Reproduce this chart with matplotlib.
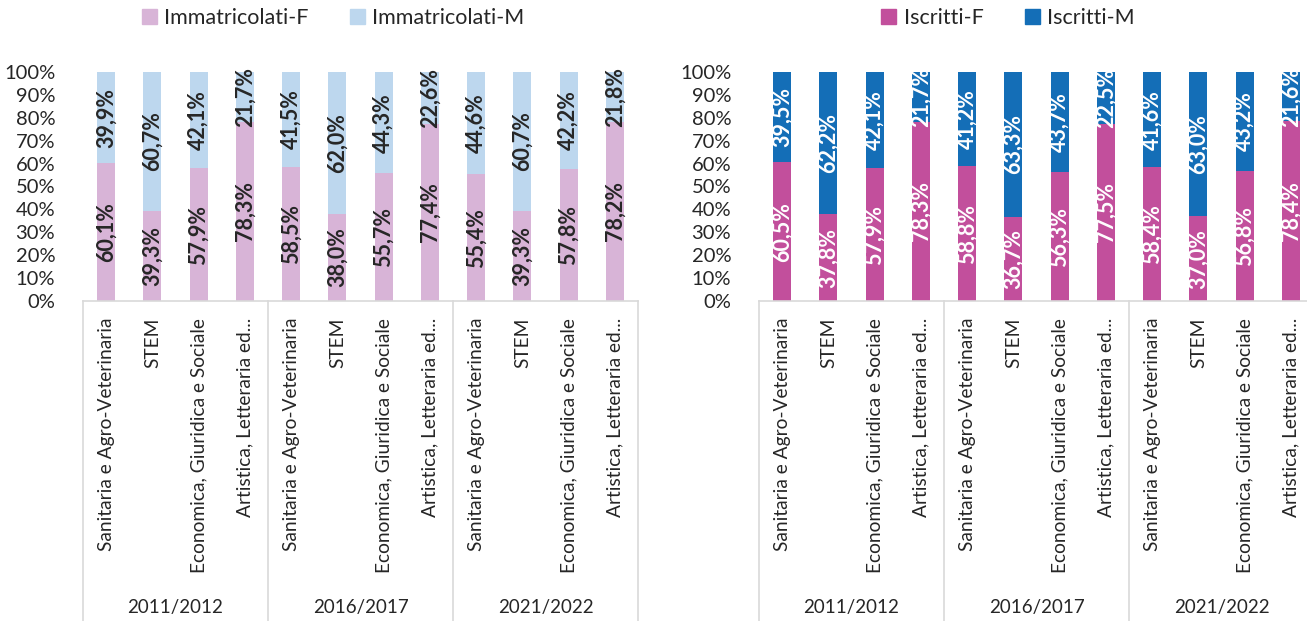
import numpy as np
import matplotlib
matplotlib.use("Agg")
from matplotlib import pyplot as plt
from matplotlib.patches import Patch

plt.rcParams['font.family'] = ['Lato', 'DejaVu Sans']

years = ['2011/2012', '2016/2017', '2021/2022']
areas = ['Sanitaria e Agro-Veterinaria', 'STEM', 'Economica, Giuridica e Sociale',
         'Artistica, Letteraria ed...']

immatricolati_f = [60.1, 39.3, 57.9, 78.3, 58.5, 38.0, 55.7, 77.4, 55.4, 39.3, 57.8, 78.2]
immatricolati_m = [39.9, 60.7, 42.1, 21.7, 41.5, 62.0, 44.3, 22.6, 44.6, 60.7, 42.2, 21.8]
iscritti_f = [60.5, 37.8, 57.9, 78.3, 58.8, 36.7, 56.3, 77.5, 58.4, 37.0, 56.8, 78.4]
iscritti_m = [39.5, 62.2, 42.1, 21.7, 41.2, 63.3, 43.7, 22.5, 41.6, 63.0, 43.2, 21.6]

panels = [
    dict(f=immatricolati_f, m=immatricolati_m, names=('Immatricolati-F', 'Immatricolati-M'),
         colors=('#D8B4D7', '#BDD7EE'), txt='#262626', left=83, leg_x=333),
    dict(f=iscritti_f, m=iscritti_m, names=('Iscritti-F', 'Iscritti-M'),
         colors=('#C24F9C', '#146EB7'), txt='white', left=759, leg_x=1008),
]

W, H = 1307, 621
fig = plt.figure(figsize=(W / 100, H / 100), dpi=100)
grid_col = '#D9D9D9'

for p in panels:
    ax = fig.add_axes([p['left'] / W, 1 - 301 / H, 555 / W, 229 / H])
    n = len(p['f'])
    x = np.arange(n)
    f = np.array(p['f'])
    m = np.array(p['m'])
    ax.bar(x, f, width=0.39, color=p['colors'][0], zorder=2)
    ax.bar(x, m, width=0.39, bottom=f, color=p['colors'][1], zorder=2)
    for i in range(n):
        ax.text(x[i], f[i] / 2, f'{f[i]:.1f}%'.replace('.', ','), rotation=90,
                ha='center', va='center', color=p['txt'], fontsize=15.5,
                fontweight='bold', zorder=3)
        ax.text(x[i], f[i] + m[i] / 2, f'{m[i]:.1f}%'.replace('.', ','), rotation=90,
                ha='center', va='center', color=p['txt'], fontsize=15.5,
                fontweight='bold', zorder=3)

    ax.set_xlim(-0.5, n - 0.5)
    ax.set_ylim(0, 100)
    ax.set_yticks(np.arange(0, 101, 10))
    ax.set_yticklabels([f'{v}%' for v in range(0, 101, 10)], fontsize=14.5, color='#262626')
    ax.tick_params(axis='y', length=0, pad=20)
    ax.set_xticks(x)
    ax.set_xticklabels(areas * len(years), rotation=90, fontsize=13.8, color='#262626')
    ax.tick_params(axis='x', length=0, pad=12)
    for s in ['top', 'left', 'right']:
        ax.spines[s].set_visible(False)
    ax.spines['bottom'].set_color(grid_col)
    ax.spines['bottom'].set_linewidth(1.2)

    # group separators and year labels below the axis
    for g in range(len(years) + 1):
        xb = g * 4 - 0.5
        ax.plot([xb, xb], [0, -140], color=grid_col, lw=1.2, clip_on=False)
    for g, yr in enumerate(years):
        ax.text(g * 4 + 1.5, -134, yr, ha='center', va='center', fontsize=13.5,
                color='#262626', clip_on=False)

    handles = [Patch(color=p['colors'][0]), Patch(color=p['colors'][1])]
    fig.legend(handles, p['names'], loc='center', bbox_to_anchor=(p['leg_x'] / W, 1 - 18 / H),
               ncol=2, frameon=False, fontsize=15.5, handlelength=0.7, handleheight=0.7,
               handletextpad=0.35, columnspacing=1.9, labelcolor='#262626')

fig.savefig('out.png', dpi=100)
